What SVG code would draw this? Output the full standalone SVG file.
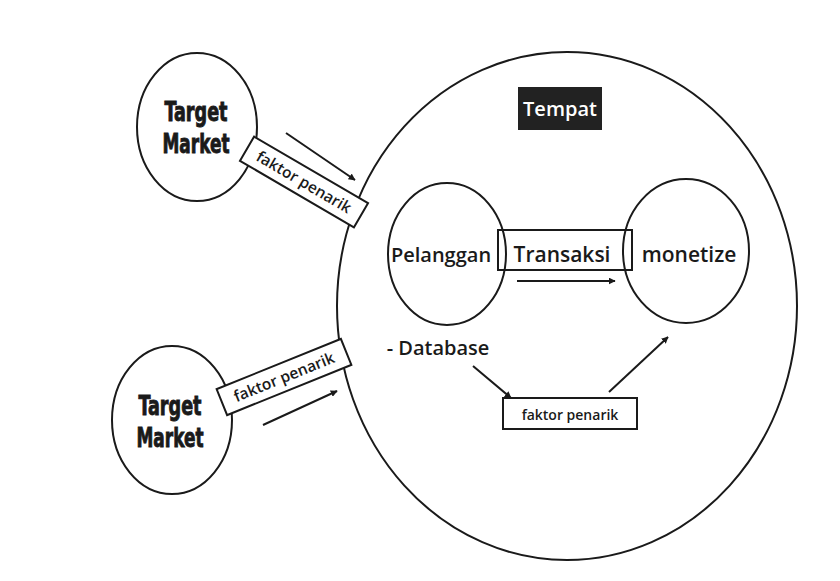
<svg xmlns="http://www.w3.org/2000/svg" width="840" height="581" viewBox="0 0 840 581">
<defs>
<marker id="ah" viewBox="0 0 10 10" refX="9" refY="5" markerWidth="7" markerHeight="7" markerUnits="userSpaceOnUse" orient="auto">
<path d="M0,0 L10,5 L0,10 z" fill="#1a1a1a"/>
</marker>
<style>
.ln{fill:none;stroke:#1a1a1a;stroke-width:2}
.bx{fill:#fff;stroke:#1a1a1a;stroke-width:2}
.tm{font-family:"DejaVu Sans Condensed","DejaVu Sans",sans-serif;font-weight:bold;font-size:27px;fill:#1a1a1a;stroke:#1a1a1a;stroke-width:0.9;text-anchor:middle}
.lb{font-family:"Open Sans","Noto Sans",sans-serif;font-weight:600;fill:#1a1a1a;text-anchor:middle}
.ar{fill:none;stroke:#1a1a1a;stroke-width:2;marker-end:url(#ah)}
</style>
</defs>
<rect width="840" height="581" fill="#fff"/>
<g id="tempat">
<ellipse class="ln" cx="567" cy="306" rx="230" ry="254"/>
<rect x="518" y="87" width="84" height="43" fill="#222"/>
<text class="lb" x="560" y="116" font-size="20" style="fill:#fff">Tempat</text>
</g>
<g id="target1">
<ellipse class="ln" cx="197" cy="127" rx="60" ry="74"/>
<text class="tm" x="196" y="121" textLength="63" lengthAdjust="spacingAndGlyphs">Target</text>
<text class="tm" x="196" y="153" textLength="67" lengthAdjust="spacingAndGlyphs">Market</text>
</g>
<g id="faktor1" transform="translate(304,182) rotate(30.3)">
<rect class="bx" x="-66" y="-14" width="132" height="28"/>
<text class="lb" x="0" y="5.5" font-size="15.5">faktor penarik</text>
</g>
<g id="target2">
<ellipse class="ln" cx="172" cy="420" rx="60" ry="74"/>
<text class="tm" x="170" y="415" textLength="63" lengthAdjust="spacingAndGlyphs">Target</text>
<text class="tm" x="170" y="447" textLength="67" lengthAdjust="spacingAndGlyphs">Market</text>
</g>
<g id="faktor2" transform="translate(284,377) rotate(-22)">
<rect class="bx" x="-67" y="-14" width="134" height="28"/>
<text class="lb" x="0" y="5.5" font-size="15.5">faktor penarik</text>
</g>
<g id="pelanggan">
<ellipse class="ln" cx="447" cy="254" rx="59" ry="71"/>
</g>
<g id="monetize">
<ellipse class="ln" cx="686" cy="251" rx="63" ry="72"/>
</g>
<g id="transaksi">
<rect x="498" y="230" width="134" height="40" fill="none" stroke="#1a1a1a" stroke-width="2"/>
<text class="lb" x="562" y="262" font-size="21">Transaksi</text>
</g>
<text class="lb" x="441" y="262" font-size="20">Pelanggan</text>
<text class="lb" x="689" y="262" font-size="21">monetize</text>
<g id="database">
<text class="lb" x="438" y="355" font-size="20">- Database</text>
</g>
<g id="faktor3">
<rect class="bx" x="503" y="398" width="134" height="31"/>
<text class="lb" x="570" y="420" font-size="14">faktor penarik</text>
</g>
<g id="connectors">
<line class="ar" x1="286" y1="133" x2="355" y2="180"/>
<line class="ar" x1="263" y1="425" x2="337" y2="391"/>
<line class="ar" x1="517" y1="281" x2="615" y2="281"/>
<line class="ar" x1="473" y1="366" x2="511" y2="398"/>
<line class="ar" x1="609" y1="392" x2="668" y2="337"/>
</g>
</svg>
